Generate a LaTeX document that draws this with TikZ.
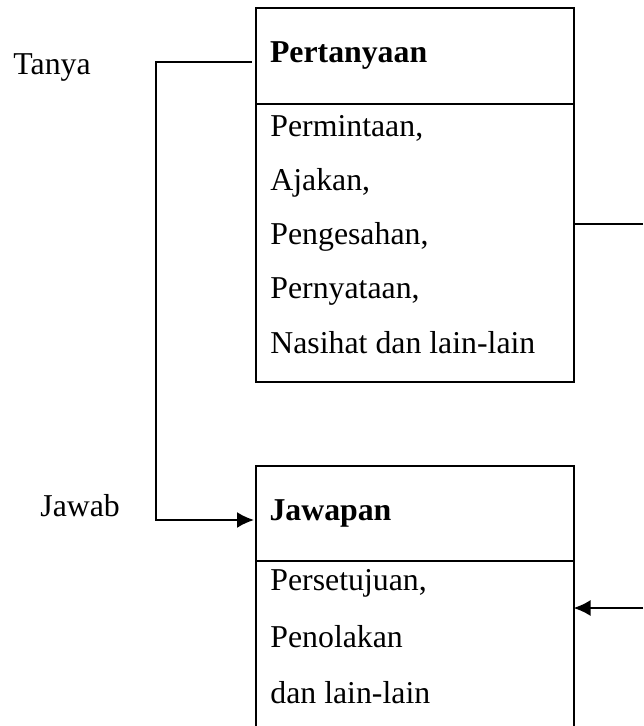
\documentclass[tikz,border=0pt]{standalone}
\usepackage{fontspec}
\setmainfont{Liberation Serif}
\usetikzlibrary{arrows.meta}

\tikzset{
  head/.style={draw,line width=1pt,minimum width=159pt,text width=145pt,
               inner xsep=7pt,inner ysep=0pt,outer sep=0pt,align=left},
  body/.style={draw,line width=1pt,minimum width=159pt,inner sep=0pt,outer sep=0pt,anchor=north},
  item/.style={anchor=base west,inner sep=0pt},
  link/.style={line width=1pt},
}

\begin{document}
\begin{tikzpicture}[x=0.5pt,y=-0.5pt,font=\fontsize{15.9pt}{19pt}\selectfont]
  \path[use as bounding box,clip] (0,0) rectangle (643,726);

  \node[head,minimum height=48pt] (pert) at (415,56) {\textbf{Pertanyaan}};
  \node[body,minimum height=139pt] (pertbody) at (pert.south) {};
  \node[head,minimum height=47.5pt] (jawp) at (414.5,513.5) {\textbf{Jawapan}};
  \node[body,minimum height=110pt] (jawpbody) at (jawp.south) {};

  \foreach \t [count=\i] in {{Permintaan,},{Ajakan,},{Pengesahan,},{Pernyataan,},{Nasihat dan lain-lain}}
    \node[item] (p\i) at (270,83+54*\i) {\t};
  \foreach \t/\y [count=\i] in {{Persetujuan,}/590,Penolakan/647,dan lain-lain/703}
    \node[item] (j\i) at (270,\y) {\t};

  \node[item] (tanya) at (13,75) {Tanya};
  \node[item] (jawab) at (40,516) {Jawab};

  \coordinate (tanyaend) at (252,62);
  \coordinate (jawabend) at (254,520);
  \coordinate (pertout) at (pertbody.east |- 0,224);
  \coordinate (rightout) at (643,224);
  \coordinate (jawpin) at (jawpbody.east |- 0,608);
  \coordinate (rightin) at (643,608);

  \draw[link,-{Latex[length=8.5pt,width=8pt]}] (tanyaend) -- ++(-96,0) |- (jawabend);
  \draw[link] (pertout) -- (rightout);
  \draw[link,-{Latex[length=8.5pt,width=8pt]}] (rightin) -- (jawpin);
\end{tikzpicture}
\end{document}
